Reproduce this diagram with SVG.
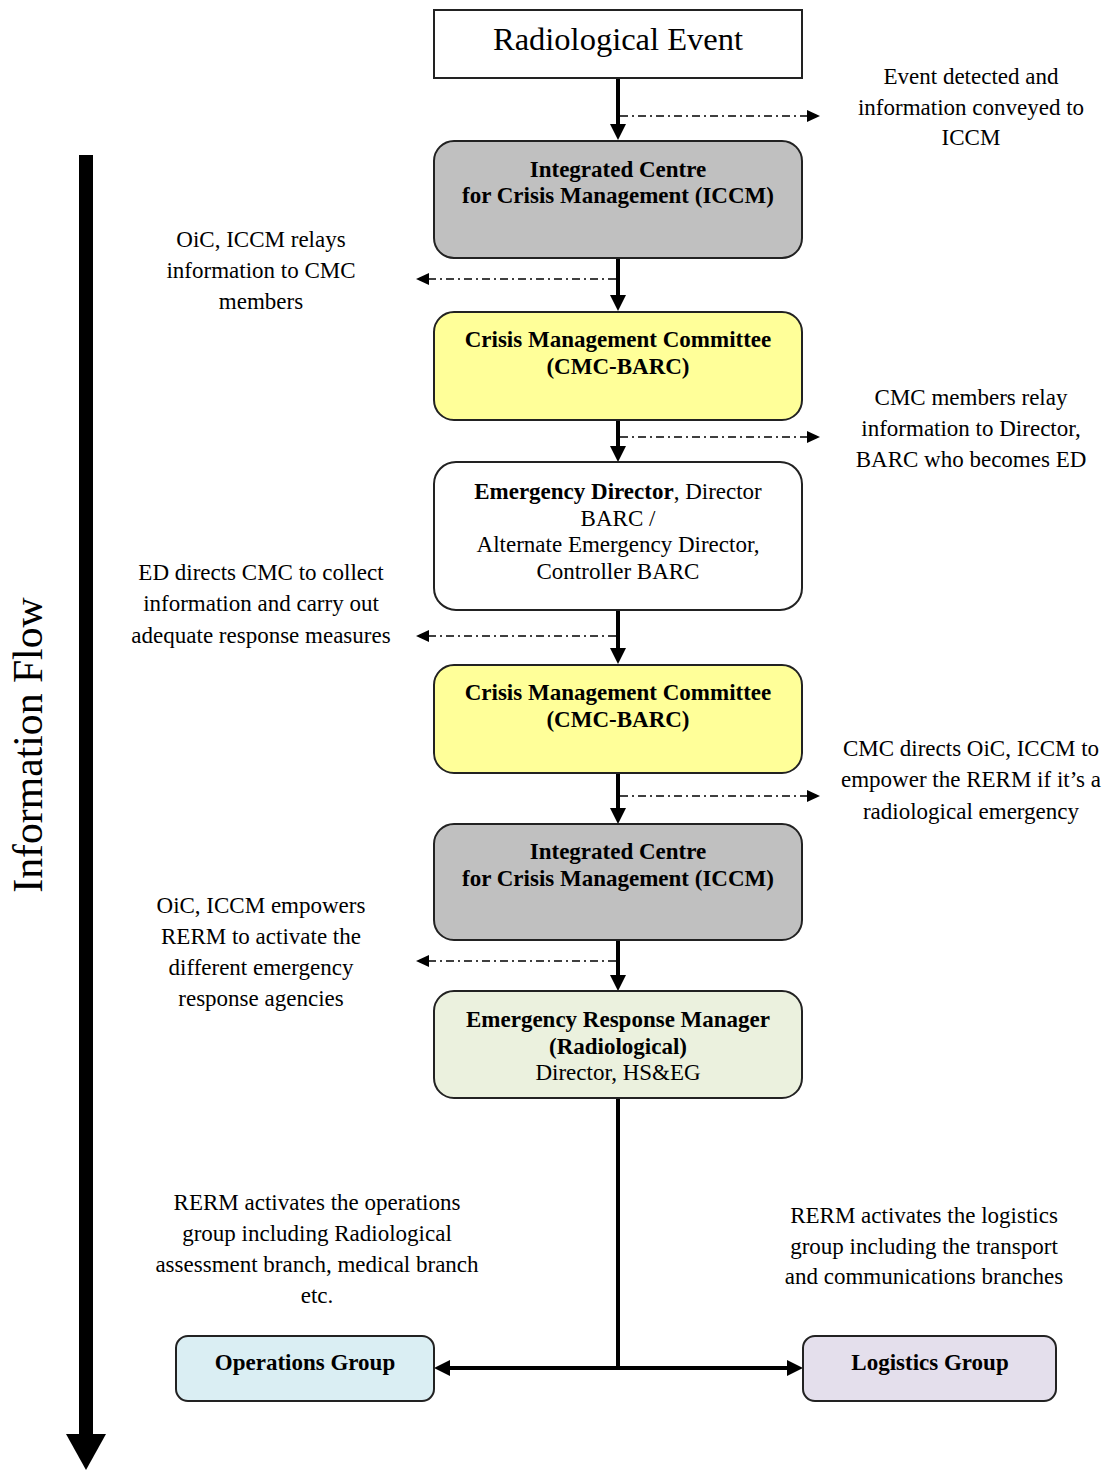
<svg xmlns="http://www.w3.org/2000/svg" width="1109" height="1470" viewBox="0 0 1109 1470">
<style>
.box{stroke:#222;stroke-width:2}
.t{font-family:"Liberation Serif","Times New Roman",serif;font-size:23px;fill:#000;text-anchor:middle}
.b{font-weight:bold}
.main{stroke:#000;stroke-width:4;fill:none}
.dd{stroke:#000;stroke-width:1.5;stroke-dasharray:8,4,2,4;fill:none}
</style>
<rect width="1109" height="1470" fill="#fff"/>

<g id="connectors">
<line class="main" x1="618" y1="78" x2="618" y2="128"/>
<path d="M610,124 L626,124 L618,140 Z"/>
<line class="main" x1="618" y1="258" x2="618" y2="298"/>
<path d="M610,295 L626,295 L618,311 Z"/>
<line class="main" x1="618" y1="420" x2="618" y2="450"/>
<path d="M610,446 L626,446 L618,462 Z"/>
<line class="main" x1="618" y1="610" x2="618" y2="652"/>
<path d="M610,648 L626,648 L618,664 Z"/>
<line class="main" x1="618" y1="773" x2="618" y2="812"/>
<path d="M610,808 L626,808 L618,824 Z"/>
<line class="main" x1="618" y1="940" x2="618" y2="978"/>
<path d="M610,975 L626,975 L618,991 Z"/>
<line class="main" x1="618" y1="1098" x2="618" y2="1368"/>
<line class="main" x1="448" y1="1368" x2="790" y2="1368"/>
<path d="M450,1360 L450,1376 L434,1368 Z"/>
<path d="M787,1360 L787,1376 L803,1368 Z"/>

<line class="dd" x1="620" y1="116" x2="808" y2="116"/>
<path d="M807,110 L820,116 L807,122 Z"/>
<line class="dd" x1="616" y1="279" x2="428" y2="279"/>
<path d="M429,273 L416,279 L429,285 Z"/>
<line class="dd" x1="620" y1="437" x2="808" y2="437"/>
<path d="M807,431 L820,437 L807,443 Z"/>
<line class="dd" x1="616" y1="636" x2="428" y2="636"/>
<path d="M429,630 L416,636 L429,642 Z"/>
<line class="dd" x1="620" y1="796" x2="808" y2="796"/>
<path d="M807,790 L820,796 L807,802 Z"/>
<line class="dd" x1="616" y1="961" x2="428" y2="961"/>
<path d="M429,955 L416,961 L429,967 Z"/>

<rect x="79" y="155" width="14" height="1282" fill="#000"/>
<path d="M66,1434 L106,1434 L86,1470 Z" fill="#000"/>
</g>

<g id="event">
<rect class="box" x="434" y="10" width="368" height="68" fill="#fff"/>
<text class="t" x="618" y="50" style="font-size:32.5px">Radiological Event</text>
</g>
<g id="iccm1">
<rect class="box" x="434" y="141" width="368" height="117" rx="20" fill="#c0c0c0"/>
<text class="t b" x="618" y="177">Integrated Centre</text>
<text class="t b" x="618" y="203">for Crisis Management (ICCM)</text>
</g>
<g id="cmc1">
<rect class="box" x="434" y="312" width="368" height="108" rx="20" fill="#ffff99"/>
<text class="t b" x="618" y="347">Crisis Management Committee</text>
<text class="t b" x="618" y="374">(CMC-BARC)</text>
</g>
<g id="ed">
<rect class="box" x="434" y="462" width="368" height="148" rx="22" fill="#fff"/>
<text class="t" x="618" y="499"><tspan font-weight="bold">Emergency Director</tspan>, Director</text>
<text class="t" x="618" y="526">BARC /</text>
<text class="t" x="618" y="552">Alternate Emergency Director,</text>
<text class="t" x="618" y="579">Controller BARC</text>
</g>
<g id="cmc2">
<rect class="box" x="434" y="665" width="368" height="108" rx="20" fill="#ffff99"/>
<text class="t b" x="618" y="700">Crisis Management Committee</text>
<text class="t b" x="618" y="727">(CMC-BARC)</text>
</g>
<g id="iccm2">
<rect class="box" x="434" y="824" width="368" height="116" rx="20" fill="#c0c0c0"/>
<text class="t b" x="618" y="859">Integrated Centre</text>
<text class="t b" x="618" y="886">for Crisis Management (ICCM)</text>
</g>
<g id="erm">
<rect class="box" x="434" y="991" width="368" height="107" rx="20" fill="#ebf1de"/>
<text class="t b" x="618" y="1027">Emergency Response Manager</text>
<text class="t b" x="618" y="1054">(Radiological)</text>
<text class="t" x="618" y="1080">Director, HS&amp;EG</text>
</g>
<g id="ops">
<rect class="box" x="176" y="1336" width="258" height="65" rx="12" fill="#daeef3"/>
<text class="t b" x="305" y="1370">Operations Group</text>
</g>
<g id="log">
<rect class="box" x="803" y="1336" width="253" height="65" rx="12" fill="#e4dfec"/>
<text class="t b" x="930" y="1370">Logistics Group</text>
</g>

<g id="labels">
<text class="t" x="971" y="84">Event detected and</text>
<text class="t" x="971" y="115">information conveyed to</text>
<text class="t" x="971" y="145">ICCM</text>
<text class="t" x="261" y="247">OiC, ICCM relays</text>
<text class="t" x="261" y="278">information to CMC</text>
<text class="t" x="261" y="309">members</text>
<text class="t" x="971" y="405">CMC members relay</text>
<text class="t" x="971" y="436">information to Director,</text>
<text class="t" x="971" y="467">BARC who becomes ED</text>
<text class="t" x="261" y="580">ED directs CMC to collect</text>
<text class="t" x="261" y="611">information and carry out</text>
<text class="t" x="261" y="643">adequate response measures</text>
<text class="t" x="971" y="756">CMC directs OiC, ICCM to</text>
<text class="t" x="971" y="787">empower the RERM if it’s a</text>
<text class="t" x="971" y="819">radiological emergency</text>
<text class="t" x="261" y="913">OiC, ICCM empowers</text>
<text class="t" x="261" y="944">RERM to activate the</text>
<text class="t" x="261" y="975">different emergency</text>
<text class="t" x="261" y="1006">response agencies</text>
<text class="t" x="317" y="1210">RERM activates the operations</text>
<text class="t" x="317" y="1241">group including Radiological</text>
<text class="t" x="317" y="1272">assessment branch, medical branch</text>
<text class="t" x="317" y="1303">etc.</text>
<text class="t" x="924" y="1223">RERM activates the logistics</text>
<text class="t" x="924" y="1254">group including the transport</text>
<text class="t" x="924" y="1284">and communications branches</text>
<text class="t" transform="translate(42,745) rotate(-90)" style="font-size:41.7px">Information Flow</text>
</g>
</svg>
